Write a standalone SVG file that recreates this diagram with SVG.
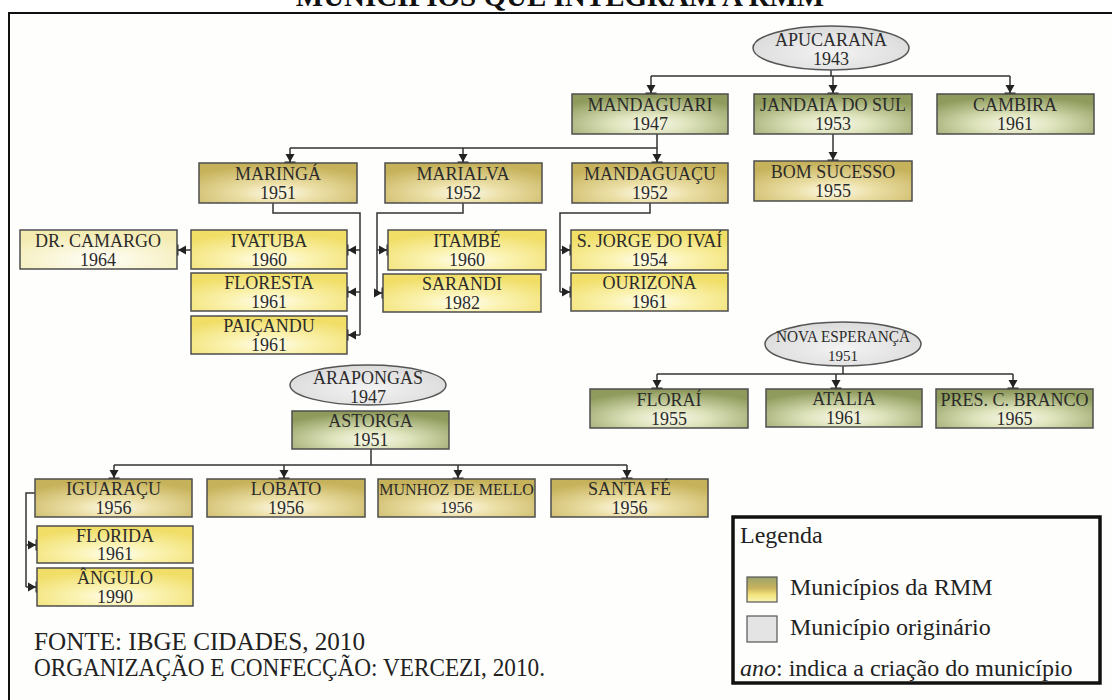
<svg xmlns="http://www.w3.org/2000/svg" width="1112" height="700" viewBox="0 0 1112 700" font-family="'Liberation Serif', 'Times New Roman', serif">
<defs>
<style>
.box{stroke:#4d4d4d;stroke-width:1.5}
.gr{fill:url(#gGreen)}
.go{fill:url(#gGold)}
.ye{fill:url(#gYellow)}
.pa{fill:url(#gPale)}
.el{fill:url(#gGray);stroke:#555;stroke-width:1.5}
.t{font-size:18px;fill:#2b2b2b;text-anchor:middle}
.s16{font-size:16px}
.s15{font-size:15px}
.conn{fill:none;stroke:#333;stroke-width:1.5}
.arr{fill:none;stroke:#333;stroke-width:1.5;marker-end:url(#arrow)}
.lg{font-size:24px;fill:#222}
.ft{font-size:25px;fill:#222}
</style>
<radialGradient id="gGreen" cx="0.5" cy="0.75" r="0.7">
<stop offset="0" stop-color="#f8f9ea"/><stop offset="0.35" stop-color="#dfe4bd"/><stop offset="1" stop-color="#8e9b5c"/>
</radialGradient>
<radialGradient id="gGold" cx="0.5" cy="0.75" r="0.7">
<stop offset="0" stop-color="#fdfaea"/><stop offset="0.35" stop-color="#ece0a8"/><stop offset="1" stop-color="#c6b25a"/>
</radialGradient>
<radialGradient id="gYellow" cx="0.5" cy="0.75" r="0.7">
<stop offset="0" stop-color="#fffef2"/><stop offset="0.35" stop-color="#fbf3b4"/><stop offset="1" stop-color="#f0de66"/>
</radialGradient>
<radialGradient id="gPale" cx="0.5" cy="0.75" r="0.7">
<stop offset="0" stop-color="#fffffa"/><stop offset="1" stop-color="#f3ebb0"/>
</radialGradient>
<radialGradient id="gGray" cx="0.5" cy="0.6" r="0.6">
<stop offset="0" stop-color="#f3f3f3"/><stop offset="1" stop-color="#dadada"/>
</radialGradient>
<linearGradient id="gLeg" x1="0" y1="0" x2="0" y2="1">
<stop offset="0" stop-color="#9aa46c"/><stop offset="0.45" stop-color="#c9b45c"/><stop offset="0.7" stop-color="#f2e47c"/><stop offset="1" stop-color="#fbf4b4"/>
</linearGradient>
<marker id="arrow" viewBox="0 0 10 12" refX="10" refY="6" markerWidth="10" markerHeight="12" markerUnits="userSpaceOnUse" orient="auto">
<path d="M1,1.5 L9,6 L1,10.5 Z" fill="#222"/>
<path d="M9.3,0.5 V11.5" stroke="#222" stroke-width="1.6"/>
</marker>
</defs>

<rect x="0" y="0" width="1112" height="700" fill="#ffffff"/>
<rect x="9" y="13" width="1200" height="800" fill="#fefefc" stroke="#111" stroke-width="2"/>
<text x="560" y="6" font-size="29" font-weight="bold" text-anchor="middle" fill="#111">MUNICÍPIOS QUE INTEGRAM A RMM</text>

<g id="connectors">
<path class="conn" d="M831,70 V76 M651,76 H1010"/>
<path class="arr" d="M651,76 V94"/>
<path class="arr" d="M833,76 V94"/>
<path class="arr" d="M1010,76 V94"/>
<path class="conn" d="M657,134 V148 H290"/>
<path class="arr" d="M290,148 V163"/>
<path class="arr" d="M463,148 V163"/>
<path class="arr" d="M657,148 V163"/>
<path class="arr" d="M833,134 V161"/>
<path class="conn" d="M273,203 V213 H360 V335"/>
<path class="arr" d="M360,250 H347"/>
<path class="arr" d="M360,292 H347"/>
<path class="arr" d="M360,335 H347"/>
<path class="arr" d="M191,250 H177"/>
<path class="conn" d="M463,203 V213 H377 V293"/>
<path class="arr" d="M377,250 H388"/>
<path class="arr" d="M377,293 H383"/>
<path class="conn" d="M650,203 V213 H560 V292"/>
<path class="arr" d="M560,250 H571"/>
<path class="arr" d="M560,292 H571"/>
<path class="conn" d="M843,366 V374 M657,374 H1013"/>
<path class="arr" d="M657,374 V389"/>
<path class="arr" d="M836,374 V389"/>
<path class="arr" d="M1013,374 V389"/>
<path class="conn" d="M371,449 V465 M114,465 H627"/>
<path class="arr" d="M114,465 V479"/>
<path class="arr" d="M284,465 V479"/>
<path class="arr" d="M458,465 V479"/>
<path class="arr" d="M627,465 V479"/>
<path class="conn" d="M35,493 H26 V587"/>
<path class="arr" d="M26,545 H37"/>
<path class="arr" d="M26,587 H37"/>
</g>

<g id="apucarana"><ellipse class="el" cx="831" cy="48" rx="78" ry="22"/><text class="t" x="831" y="46">APUCARANA</text><text class="t" x="831" y="65">1943</text></g>
<g id="mandaguari"><rect class="box gr" x="572" y="94" width="156" height="40"/><text class="t" x="650" y="111">MANDAGUARI</text><text class="t" x="650" y="130">1947</text></g>
<g id="jandaia"><rect class="box gr" x="754" y="94" width="158" height="40"/><text class="t" x="833" y="111">JANDAIA DO SUL</text><text class="t" x="833" y="130">1953</text></g>
<g id="cambira"><rect class="box gr" x="937" y="94" width="157" height="40"/><text class="t" x="1015" y="111">CAMBIRA</text><text class="t" x="1015" y="130">1961</text></g>
<g id="maringa"><rect class="box go" x="199" y="163" width="158" height="40"/><text class="t" x="278" y="180">MARINGÁ</text><text class="t" x="278" y="199">1951</text></g>
<g id="marialva"><rect class="box go" x="385" y="163" width="157" height="40"/><text class="t" x="463" y="180">MARIALVA</text><text class="t" x="463" y="199">1952</text></g>
<g id="mandaguacu"><rect class="box go" x="572" y="163" width="156" height="40"/><text class="t" x="650" y="180">MANDAGUAÇU</text><text class="t" x="650" y="199">1952</text></g>
<g id="bomsucesso"><rect class="box go" x="754" y="161" width="158" height="40"/><text class="t" x="833" y="178">BOM SUCESSO</text><text class="t" x="833" y="197">1955</text></g>
<g id="drcamargo"><rect class="box pa" x="20" y="230" width="157" height="39"/><text class="t" x="98" y="247">DR. CAMARGO</text><text class="t" x="98" y="266">1964</text></g>
<g id="ivatuba"><rect class="box ye" x="191" y="230" width="156" height="39"/><text class="t" x="269" y="247">IVATUBA</text><text class="t" x="269" y="266">1960</text></g>
<g id="floresta"><rect class="box ye" x="191" y="273" width="156" height="38"/><text class="t" x="269" y="289">FLORESTA</text><text class="t" x="269" y="308">1961</text></g>
<g id="paicandu"><rect class="box ye" x="191" y="316" width="156" height="38"/><text class="t" x="269" y="332">PAIÇANDU</text><text class="t" x="269" y="351">1961</text></g>
<g id="itambe"><rect class="box ye" x="388" y="230" width="158" height="40"/><text class="t" x="467" y="247">ITAMBÉ</text><text class="t" x="467" y="266">1960</text></g>
<g id="sarandi"><rect class="box ye" x="383" y="274" width="158" height="38"/><text class="t" x="462" y="290">SARANDI</text><text class="t" x="462" y="309">1982</text></g>
<g id="sjorge"><rect class="box ye" x="571" y="230" width="157" height="40"/><text class="t" x="649.5" y="247">S. JORGE DO IVAÍ</text><text class="t" x="649.5" y="266">1954</text></g>
<g id="ourizona"><rect class="box ye" x="571" y="273" width="157" height="38"/><text class="t" x="649.5" y="289">OURIZONA</text><text class="t" x="649.5" y="308">1961</text></g>
<g id="novaesperanca"><ellipse class="el" cx="843" cy="344" rx="78" ry="22"/><text class="t s16" x="843" y="342" textLength="134" lengthAdjust="spacingAndGlyphs">NOVA ESPERANÇA</text><text class="t s15" x="843" y="361">1951</text></g>
<g id="florai"><rect class="box gr" x="590" y="389" width="158" height="39"/><text class="t" x="669" y="406">FLORAÍ</text><text class="t" x="669" y="425">1955</text></g>
<g id="atalia"><rect class="box gr" x="766" y="389" width="156" height="38"/><text class="t" x="844" y="405">ATALIA</text><text class="t" x="844" y="424">1961</text></g>
<g id="presbranco"><rect class="box gr" x="936" y="389" width="157" height="39"/><text class="t" x="1014.5" y="406">PRES. C. BRANCO</text><text class="t" x="1014.5" y="425">1965</text></g>
<g id="arapongas"><ellipse class="el" cx="368" cy="385" rx="78" ry="20"/><text class="t" x="368" y="384">ARAPONGAS</text><text class="t" x="368" y="403">1947</text></g>
<g id="astorga"><rect class="box gr" x="292" y="411" width="157" height="38"/><text class="t" x="370.5" y="427">ASTORGA</text><text class="t" x="370.5" y="446">1951</text></g>
<g id="iguaracu"><rect class="box go" x="35" y="479" width="157" height="38"/><text class="t" x="113.5" y="495">IGUARAÇU</text><text class="t" x="113.5" y="514">1956</text></g>
<g id="lobato"><rect class="box go" x="207" y="479" width="158" height="38"/><text class="t" x="286" y="495">LOBATO</text><text class="t" x="286" y="514">1956</text></g>
<g id="munhoz"><rect class="box go" x="378" y="479" width="157" height="38"/><text class="t s16" x="456.5" y="495">MUNHOZ DE MELLO</text><text class="t s16" x="456.5" y="513">1956</text></g>
<g id="santafe"><rect class="box go" x="551" y="479" width="157" height="38"/><text class="t" x="629.5" y="495">SANTA FÉ</text><text class="t" x="629.5" y="514">1956</text></g>
<g id="florida"><rect class="box ye" x="37" y="526" width="156" height="37"/><text class="t" x="115" y="542">FLORIDA</text><text class="t" x="115" y="560">1961</text></g>
<g id="angulo"><rect class="box ye" x="37" y="568" width="156" height="38"/><text class="t" x="115" y="584">ÂNGULO</text><text class="t" x="115" y="603">1990</text></g>

<g id="legend">
<rect x="733" y="517" width="367" height="166" fill="#fefefc" stroke="#111" stroke-width="3.5"/>
<text class="lg" x="740" y="543">Legenda</text>
<rect x="747" y="577" width="30" height="25" fill="url(#gLeg)" stroke="#555" stroke-width="1.2"/>
<text class="lg" x="790" y="595">Municípios da RMM</text>
<rect x="747" y="616" width="30" height="26" fill="#e4e4e4" stroke="#555" stroke-width="1.2"/>
<text class="lg" x="790" y="635">Município originário</text>
<text class="lg" x="740" y="676"><tspan font-style="italic">ano</tspan>: indica a criação do município</text>
</g>

<g id="footer">
<text class="ft" x="34" y="650" textLength="331" lengthAdjust="spacingAndGlyphs">FONTE: IBGE CIDADES, 2010</text>
<text class="ft" x="34" y="676" textLength="511" lengthAdjust="spacingAndGlyphs">ORGANIZAÇÃO E CONFECÇÃO: VERCEZI, 2010.</text>
</g>
</svg>
